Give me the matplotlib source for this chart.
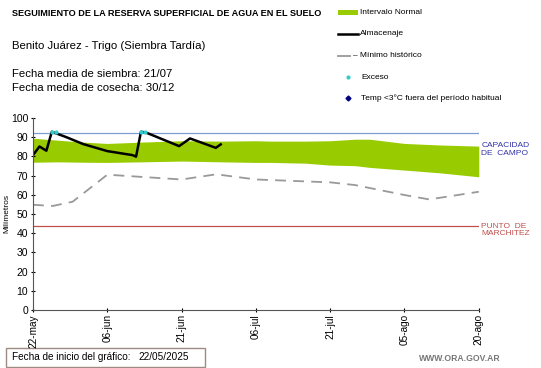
import matplotlib.pyplot as plt
from matplotlib.patches import Rectangle
from matplotlib.lines import Line2D

# days since 22-may
band_days = [0, 5, 10, 15, 22, 30, 38, 45, 48, 55, 60, 65, 68, 75, 82, 90]
band_upper = [89.5, 88.5, 87.5, 86.8, 87.5, 88.2, 88.0, 88.2, 88.0, 88.0, 88.2, 89.0, 89.0, 86.8, 86.0, 85.4]
band_lower = [77.0, 77.2, 77.0, 76.9, 77.2, 77.6, 77.2, 76.9, 76.9, 76.5, 75.5, 75.2, 74.3, 72.9, 71.5, 69.4]

min_days = [0, 4, 8, 15, 30, 37, 45, 48, 60, 65, 75, 80, 90]
min_vals = [54.8, 54.2, 56.4, 70.5, 68.0, 70.7, 68.0, 67.7, 66.5, 65.1, 59.9, 57.6, 61.6]

alm_days = [0, 1.3, 2.7, 3.8, 6.8, 10.1, 15, 20.1, 20.8, 21.8, 22.8, 29.5, 31.7, 36.9, 37.9]
alm_vals = [80.7, 85.2, 83.0, 92.9, 90.0, 86.5, 82.8, 80.7, 79.9, 92.9, 92.5, 85.4, 89.4, 84.5, 86.3]

exc_days = [3.8, 4.6, 21.8, 22.6]
exc_vals = [92.9, 92.6, 92.9, 92.6]

capacidad = 92.3
marchitez = 43.6

tick_days = [0, 15, 30, 45, 60, 75, 90]
tick_labels = ["22-may", "06-jun", "21-jun", "06-jul", "21-jul", "05-ago", "20-ago"]

fig = plt.figure(figsize=(5.41, 3.68), dpi=100)
plt.rcParams['font.family'] = ['Liberation Sans', 'DejaVu Sans']
ax = fig.add_axes([0.061, 0.158, 0.824, 0.521])

ax.fill_between(band_days, band_lower, band_upper, color='#99cc00', lw=0)
ax.plot(min_days, min_vals, color='#999999', lw=1.3, dashes=(6, 4))
ax.axhline(capacidad, color='#7f9bd6', lw=0.9)
ax.axhline(marchitez, color='#c0504d', lw=0.9)
ax.plot(alm_days, alm_vals, color='black', lw=1.8)
ax.plot(exc_days, exc_vals, 'o', color='#33cccc', ms=2, lw=0)

ax.set_xlim(0, 90)
ax.set_ylim(0, 100)
ax.set_yticks(range(0, 101, 10))
ax.set_xticks(tick_days)
ax.set_xticklabels(tick_labels, rotation=90, fontsize=7.2)
ax.tick_params(axis='y', labelsize=7.5, length=3, direction='inout', pad=2)
ax.tick_params(axis='x', length=3, direction='inout', pad=1.5)
for s in ['top', 'right']:
    ax.spines[s].set_visible(False)
ax.spines['left'].set_color('#555555')
ax.spines['bottom'].set_color('#555555')
ax.set_ylabel("Milímetros", fontsize=6)
ax.yaxis.set_label_coords(-0.05, 0.5)

ax.text(90.5, capacidad - 8.7, "CAPACIDAD\nDE  CAMPO", color='#3333aa', fontsize=6,
        va='center', ha='left', linespacing=1.1)
ax.text(90.5, marchitez - 2, "PUNTO  DE\nMARCHITEZ", color='#c0504d', fontsize=6,
        va='center', ha='left', linespacing=1.1)

# titles
fig.text(0.022, 0.962, "SEGUIMIENTO DE LA RESERVA SUPERFICIAL DE AGUA EN EL SUELO",
         fontsize=6.6, fontweight='bold', va='center')
fig.text(0.022, 0.875, "Benito Juárez - Trigo (Siembra Tardía)", fontsize=8.2, va='center')
fig.text(0.022, 0.8, "Fecha media de siembra: 21/07", fontsize=8.2, va='center')
fig.text(0.022, 0.76, "Fecha media de cosecha: 30/12", fontsize=8.2, va='center')

# legend
lx = 0.625
fig.patches.append(Rectangle((lx, 0.958), 0.037, 0.016, transform=fig.transFigure,
                             color='#99cc00', lw=0))
fig.text(lx + 0.04, 0.966, "Intervalo Normal", fontsize=6, va='center')
fig.lines.append(Line2D([lx, lx + 0.037], [0.908, 0.908], transform=fig.transFigure,
                        color='black', lw=1.8))
fig.text(lx + 0.04, 0.908, "Almacenaje", fontsize=6, va='center')
fig.lines.append(Line2D([lx, lx + 0.022], [0.848, 0.848], transform=fig.transFigure,
                        color='#999999', lw=1.3))
fig.text(lx + 0.027, 0.848, "– Mínimo histórico", fontsize=6, va='center')
fig.lines.append(Line2D([0.643], [0.79], transform=fig.transFigure, marker='o',
                        color='#33cccc', ms=2, lw=0))
fig.text(0.668, 0.79, "Exceso", fontsize=6, va='center')
fig.lines.append(Line2D([0.643], [0.733], transform=fig.transFigure, marker='D',
                        color='#000080', ms=2.5, lw=0))
fig.text(0.668, 0.733, "Temp <3°C fuera del período habitual", fontsize=6, va='center')

# bottom
fig.patches.append(Rectangle((0.011, 0.004), 0.368, 0.05, transform=fig.transFigure,
                             fc='white', ec='#9e8a84', lw=1, zorder=-1))
fig.text(0.022, 0.029, "Fecha de inicio del gráfico:", fontsize=7.2, va='center')
fig.text(0.255, 0.029, "22/05/2025", fontsize=7.2, va='center')
fig.text(0.925, 0.027, "WWW.ORA.GOV.AR", fontsize=6.2, color='#777777', fontweight='bold',
         ha='right', va='center')

fig.savefig("out.png", dpi=100)
